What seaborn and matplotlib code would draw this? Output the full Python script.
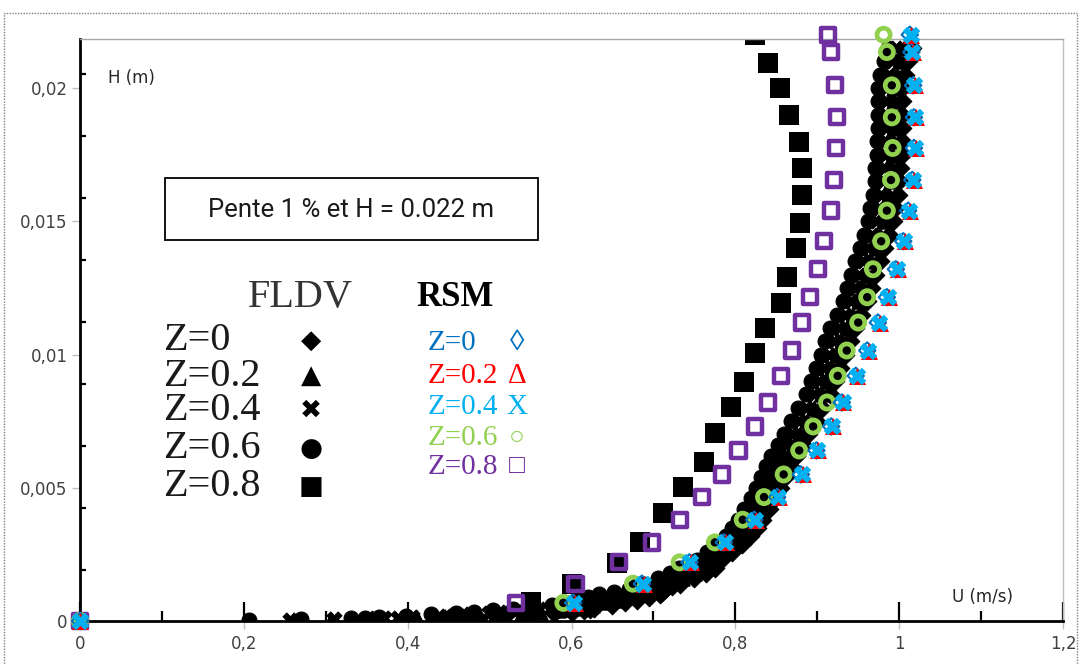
import matplotlib
matplotlib.use("Agg")
import matplotlib.pyplot as plt
from matplotlib.patches import Rectangle
from matplotlib.ticker import FixedLocator
import seaborn as sns
import pandas as pd

# ---------------- data ----------------
X_TICKS = [0, 0.2, 0.4, 0.6, 0.8, 1.0, 1.2]
X_TICK_LABELS = ["0", "0,2", "0,4", "0,6", "0,8", "1", "1,2"]
X_MINOR = [0.1, 0.3, 0.5, 0.7, 0.9, 1.1]
Y_TICKS = [0, 0.005, 0.01, 0.015, 0.02]
Y_TICK_LABELS = ["0", "0,005", "0,01", "0,015", "0,02"]
Y_INNER_TICKS = [0.0019, 0.00423, 0.00656, 0.00889, 0.01122, 0.01355, 0.01588, 0.01821, 0.02054]

# FLDV measurements (black)
FLDV_H = [0.00005, 0.000075, 0.0001, 0.000125, 0.00015, 0.0002, 0.00025, 0.0003, 0.00035, 0.0004,
          0.00045, 0.0005, 0.0006, 0.0007, 0.0008, 0.0009, 0.0010, 0.0011, 0.0012, 0.0013,
          0.0014, 0.0016, 0.0018, 0.0020,
          0.0023, 0.0026, 0.0029, 0.0032, 0.0035, 0.0038,
          0.0042, 0.0046, 0.0050, 0.0054, 0.0058, 0.0062, 0.0066, 0.0070, 0.0075, 0.0080,
          0.0085, 0.0090, 0.0095, 0.0100, 0.0105, 0.0110, 0.0115, 0.0120, 0.0125, 0.0130,
          0.0135, 0.0140, 0.0145, 0.0150, 0.0155, 0.0160, 0.0165, 0.0170, 0.0175, 0.0180,
          0.0185, 0.0190, 0.0195, 0.0200, 0.0205, 0.0210, 0.0215]
FLDV_Z00 = [0.356, 0.400, 0.451, 0.468, 0.485, 0.518, 0.548, 0.579, 0.601, 0.615,
            0.622, 0.628, 0.650, 0.665, 0.680, 0.694, 0.708, 0.711, 0.714, 0.723,
            0.732, 0.750, 0.764, 0.775,
            0.783, 0.796, 0.808, 0.818, 0.826, 0.833,
            0.841, 0.849, 0.855, 0.861, 0.867, 0.874, 0.882, 0.889, 0.898, 0.906,
            0.916, 0.922, 0.928, 0.934, 0.940, 0.946, 0.954, 0.961, 0.966, 0.971,
            0.976, 0.982, 0.987, 0.992, 0.995, 0.998, 1.000, 1.001, 1.003, 1.003,
            1.004, 1.004, 1.004, 1.004, 1.007, 1.011, 1.016]
FLDV_Z02 = [0.306, 0.360, 0.411, 0.428, 0.445, 0.478, 0.508, 0.539, 0.561, 0.584,
            0.592, 0.600, 0.625, 0.640, 0.655, 0.669, 0.683, 0.691, 0.699, 0.708,
            0.717, 0.735, 0.749, 0.760,
            0.773, 0.786, 0.798, 0.808, 0.816, 0.823,
            0.831, 0.839, 0.845, 0.851, 0.857, 0.864, 0.872, 0.879, 0.888, 0.896,
            0.906, 0.912, 0.918, 0.924, 0.930, 0.936, 0.944, 0.951, 0.956, 0.961,
            0.966, 0.972, 0.977, 0.982, 0.985, 0.988, 0.990, 0.991, 0.993, 0.993,
            0.994, 0.994, 0.994, 0.994, 0.997, 1.001, 1.006]
FLDV_Z04 = [0.256, 0.310, 0.371, 0.388, 0.405, 0.438, 0.468, 0.499, 0.521, 0.544,
            0.560, 0.576, 0.601, 0.616, 0.631, 0.645, 0.659, 0.672, 0.685, 0.694,
            0.703, 0.721, 0.735, 0.746,
            0.763, 0.776, 0.788, 0.798, 0.806, 0.813,
            0.821, 0.829, 0.835, 0.841, 0.847, 0.854, 0.862, 0.869, 0.878, 0.886,
            0.896, 0.902, 0.908, 0.914, 0.920, 0.926, 0.934, 0.941, 0.946, 0.951,
            0.956, 0.962, 0.967, 0.972, 0.975, 0.978, 0.980, 0.981, 0.983, 0.983,
            0.984, 0.984, 0.984, 0.984, 0.987, 0.991, 0.996]
FLDV_Z06 = [0.206, 0.270, 0.331, 0.348, 0.365, 0.398, 0.428, 0.459, 0.481, 0.504,
            0.528, 0.551, 0.576, 0.591, 0.606, 0.620, 0.634, 0.652, 0.670, 0.679,
            0.688, 0.706, 0.720, 0.731,
            0.753, 0.766, 0.778, 0.788, 0.796, 0.803,
            0.811, 0.819, 0.825, 0.831, 0.837, 0.844, 0.852, 0.859, 0.868, 0.876,
            0.886, 0.892, 0.898, 0.904, 0.910, 0.916, 0.924, 0.931, 0.936, 0.941,
            0.946, 0.952, 0.957, 0.962, 0.965, 0.968, 0.970, 0.971, 0.973, 0.973,
            0.974, 0.974, 0.974, 0.974, 0.977, 0.981, 0.986]
FLDV_Z08_H = [0.0007, 0.0014, 0.00218, 0.00296, 0.00405, 0.00503, 0.00597, 0.00705, 0.00803, 0.00897,
              0.01006, 0.01099, 0.01193, 0.01291, 0.0140, 0.01493, 0.01598, 0.0170, 0.01797, 0.01899,
              0.0200, 0.02094, 0.0220]
FLDV_Z08_U = [0.55, 0.60, 0.655, 0.684, 0.712, 0.736, 0.762, 0.775, 0.795, 0.810,
              0.824, 0.836, 0.856, 0.863, 0.874, 0.879, 0.881, 0.881, 0.878, 0.865,
              0.854, 0.840, 0.824]

# RSM simulations (coloured)
RSM_H = [0.0, 0.00068, 0.0014, 0.0022, 0.00295, 0.0038, 0.00465, 0.0055, 0.0064, 0.0073,
         0.0082, 0.0092, 0.01015, 0.0112, 0.01215, 0.0132, 0.01425, 0.0154, 0.01655, 0.01775,
         0.0189, 0.0201, 0.02135, 0.0220]
RSM_Z00 = [0, 0.602, 0.686, 0.744, 0.786, 0.823, 0.851, 0.880, 0.899, 0.917, 0.930, 0.947, 0.961,
           0.974, 0.985, 0.996, 1.005, 1.011, 1.016, 1.018, 1.018, 1.017, 1.015, 1.013]
RSM_Z02 = [0, 0.604, 0.688, 0.746, 0.788, 0.825, 0.853, 0.882, 0.901, 0.919, 0.932, 0.949, 0.963,
           0.976, 0.987, 0.998, 1.007, 1.013, 1.018, 1.020, 1.020, 1.019, 1.017, 1.015]
RSM_Z04 = [0, 0.603, 0.687, 0.745, 0.787, 0.824, 0.852, 0.881, 0.900, 0.918, 0.931, 0.948, 0.962,
           0.975, 0.986, 0.997, 1.006, 1.012, 1.017, 1.019, 1.019, 1.018, 1.016, 1.014]
RSM_Z06 = [0, 0.590, 0.675, 0.732, 0.775, 0.809, 0.835, 0.859, 0.878, 0.895, 0.912, 0.925, 0.936,
           0.950, 0.961, 0.968, 0.978, 0.985, 0.990, 0.992, 0.991, 0.991, 0.985, 0.981]
RSM_Z08 = [0, 0.532, 0.605, 0.658, 0.698, 0.732, 0.759, 0.784, 0.804, 0.824, 0.840, 0.856, 0.869,
           0.881, 0.891, 0.901, 0.908, 0.917, 0.920, 0.923, 0.924, 0.922, 0.917, 0.913]

BLUE = "#0070C0"
RED = "#FF0000"
CYAN = "#00B0F0"
GREEN = "#92D050"
PURPLE = "#7030A0"

# ---------------- figure ----------------
sns.set_style("white")
plt.rcParams["font.family"] = ["DejaVu Sans"]

W, H = 1080, 665
fig = plt.figure(figsize=(W / 100, H / 100), dpi=100)
ax = fig.add_axes([80 / W, (H - 621) / H, 983 / W, 582 / H])
ax.set_xlim(0, 1.2)
ax.set_ylim(0, 0.02184)

fldv = pd.DataFrame({"H": FLDV_H, "Z0": FLDV_Z00, "Z02": FLDV_Z02, "Z04": FLDV_Z04, "Z06": FLDV_Z06})
for col, mk, s in [("Z06", "o", 115), ("Z04", "X", 115), ("Z02", "^", 120), ("Z0", "D", 90)]:
    sns.scatterplot(data=fldv, x=col, y="H", marker=mk, s=s, color="black",
                    edgecolor="black", linewidth=0.8, ax=ax, zorder=2, legend=False)
sns.scatterplot(x=FLDV_Z08_U, y=FLDV_Z08_H, marker="s", s=200, color="black",
                edgecolor="black", linewidth=0, ax=ax, zorder=2, legend=False)

rsm = pd.DataFrame({"H": RSM_H, "Z0": RSM_Z00, "Z02": RSM_Z02, "Z04": RSM_Z04,
                    "Z06": RSM_Z06, "Z08": RSM_Z08})
sns.scatterplot(data=rsm, x="Z08", y="H", marker="s", s=105, color=PURPLE, facecolor="none",
                edgecolor=PURPLE, linewidth=3.2, ax=ax, zorder=3, clip_on=False, legend=False)
sns.scatterplot(data=rsm, x="Z06", y="H", marker="o", s=90, color=GREEN, facecolor="none",
                edgecolor=GREEN, linewidth=3.4, ax=ax, zorder=4, clip_on=False, legend=False)
sns.scatterplot(data=rsm, x="Z0", y="H", marker="D", s=70, color=BLUE, facecolor="none",
                edgecolor=BLUE, linewidth=1.5, ax=ax, zorder=5, clip_on=False, legend=False)
sns.scatterplot(data=rsm, x="Z02", y="H", marker="^", s=150, color=RED,
                edgecolor=RED, linewidth=0, ax=ax, zorder=6, clip_on=False, legend=False)
sns.scatterplot(data=rsm, x="Z04", y="H", marker="X", s=160, color=CYAN,
                edgecolor=CYAN, linewidth=0, ax=ax, zorder=7, clip_on=False, legend=False)

ax.set_xlabel("")
ax.set_ylabel("")

# spines
for side in ["left", "bottom"]:
    ax.spines[side].set_color("black")
    ax.spines[side].set_linewidth(2.0)
ax.spines["top"].set_color("#A6A6A6")
ax.spines["top"].set_linewidth(1.0)
ax.spines["right"].set_color("#BFBFBF")
ax.spines["right"].set_linewidth(1.0)

# x ticks: black inner (FLDV) + grey outer with labels (RSM)
ax.xaxis.set_major_locator(FixedLocator(X_TICKS))
ax.xaxis.set_minor_locator(FixedLocator(X_MINOR))
ax.tick_params(axis="x", which="major", direction="in", length=14, width=1.6,
               color="black", labelbottom=False, bottom=True)
ax.tick_params(axis="x", which="minor", direction="in", length=7, width=1.6,
               color="black", bottom=True)
sec = ax.secondary_xaxis("bottom")
sec.set_xticks(X_TICKS)
sec.set_xticklabels(X_TICK_LABELS)
sec.tick_params(direction="out", length=6, width=1, color="#BFBFBF",
                labelsize=12, labelcolor="#404040", pad=4)
sec.spines["bottom"].set_visible(False)

# y ticks
ax.yaxis.set_major_locator(FixedLocator(Y_TICKS))
ax.set_yticklabels(Y_TICK_LABELS)
ax.yaxis.set_minor_locator(FixedLocator(Y_INNER_TICKS))
ax.tick_params(axis="y", which="major", direction="out", length=6, width=1,
               color="#BFBFBF", labelsize=12, labelcolor="#404040", left=True, pad=3)
ax.tick_params(axis="y", which="minor", direction="in", length=4, width=1.6,
               color="black", left=True)


def fx(px):
    return px / W


def fy(py):
    return 1 - py / H


# axis titles inside the plot
fig.text(fx(108), fy(78), "H (m)", fontsize=12, color="#262626", va="center", ha="left")
fig.text(fx(952), fy(597), "U (m/s)", fontsize=12, color="#262626", va="center", ha="left")

# boxed annotation
fig.add_artist(Rectangle((fx(165), fy(240)), (538 - 165) / W, (240 - 178) / H,
                         transform=fig.transFigure, fill=True, facecolor="white",
                         edgecolor="black", linewidth=1.3, zorder=10))
fig.text(fx(351), fy(210), "Pente 1 % et H = 0.022 m", fontsize=18.5, family=["Roboto", "DejaVu Sans"],
         ha="center", va="center", color="#1a1a1a", zorder=11)

# legend drawn as text (image-like legend)
serif = ["Liberation Serif", "DejaVu Serif"]
fig.text(fx(248), fy(297), "FLDV", fontsize=29, family=serif, color="#333333", va="center", ha="left")
fldv_rows = ["Z=0", "Z=0.2", "Z=0.4", "Z=0.6", "Z=0.8"]
fldv_syms = ["\u25C6", "\u25B2", "\u2716", "\u25CF", "\u25A0"]
fldv_y = [341, 376, 411, 449, 487]
for lab, sym, yy in zip(fldv_rows, fldv_syms, fldv_y):
    fig.text(fx(163), fy(yy), lab, fontsize=29, family=serif, color="#1a1a1a", va="center", ha="left")
    fig.text(fx(311), fy(yy), sym, fontsize=19, family=["DejaVu Sans"], color="black",
             va="center", ha="center")

fig.text(fx(416), fy(297), "RSM", fontsize=25, family=serif, weight="bold", color="black",
         va="center", ha="left")
rsm_rows = ["Z=0", "Z=0.2", "Z=0.4", "Z=0.6", "Z=0.8"]
rsm_syms = ["\u25CA", "\u0394", "X", "\u25CB", "\u25A1"]
rsm_cols = [BLUE, RED, CYAN, GREEN, PURPLE]
rsm_y = [343, 376, 407, 438, 467]
rsm_sym_size = [21, 21, 21, 19, 19]
for lab, sym, c, yy, ss in zip(rsm_rows, rsm_syms, rsm_cols, rsm_y, rsm_sym_size):
    fig.text(fx(428), fy(yy), lab, fontsize=21, family=serif, color=c, va="center", ha="left")
    fig.text(fx(517), fy(yy), sym, fontsize=ss, family=serif, color=c, va="center", ha="center")

# outer dotted chart-area border
fig.add_artist(Rectangle((fx(4), -0.01), (1077 - 4) / W, (665 - 13) / H + 0.01,
                         transform=fig.transFigure, fill=False, edgecolor="#808080",
                         linestyle=(0, (1, 1)), linewidth=1.0))

fig.savefig("out.png", dpi=100)
